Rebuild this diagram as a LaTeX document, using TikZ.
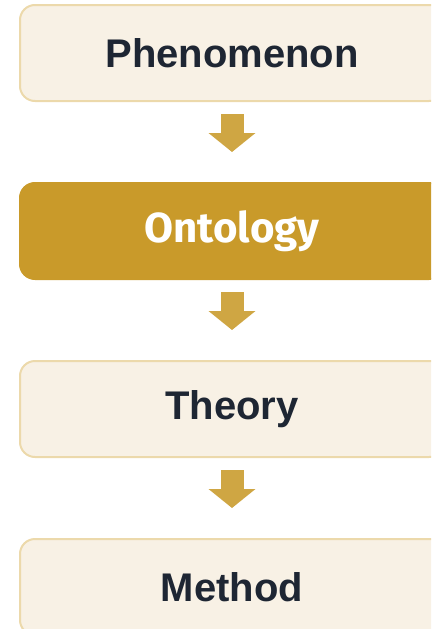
\documentclass[tikz,border=0pt]{standalone}
\usepackage{fontspec}
\setmainfont{Liberation Sans}
\newfontfamily\keyfont{Fira Sans}
\usetikzlibrary{positioning}
\usetikzlibrary{arrows.meta}

\definecolor{boxfill}{HTML}{F8F1E5}
\definecolor{boxline}{HTML}{ECD9AB}
\definecolor{gold}{HTML}{C99A2A}
\definecolor{arrowgold}{HTML}{CFA643}
\definecolor{ink}{HTML}{1E2633}

\begin{document}
\begin{tikzpicture}[x=1pt,y=-1pt,
    stage/.style={draw=boxline, line width=2pt, fill=boxfill, rounded corners=15pt,
        minimum width=424pt, minimum height=96pt, text=ink,
        font=\fontsize{40}{46}\selectfont\bfseries},
    keystage/.style={stage, draw=gold, fill=gold, text=white,
        font=\keyfont\fontsize{42}{48}\selectfont\bfseries},
    flow/.style={arrowgold, line width=23pt, shorten <=12pt, shorten >=30pt,
        -{Triangle[width=46pt,length=19pt]}},
    node distance=80pt]

    % Page size
    \useasboundingbox (0,0) rectangle (431,629);
    \clip (0,0) rectangle (431,629);

    % Stages
    \node[stage] (phen) at (232,53) {Phenomenon};
    \node[keystage, below=of phen] (onto) {Ontology};
    \node[stage, below=of onto] (theo) {Theory};
    \node[stage, below=of theo] (meth) {Method};

    % Arrows between stages
    \draw[flow] (phen) -- (onto);
    \draw[flow] (onto) -- (theo);
    \draw[flow] (theo) -- (meth);

\end{tikzpicture}
\end{document}
